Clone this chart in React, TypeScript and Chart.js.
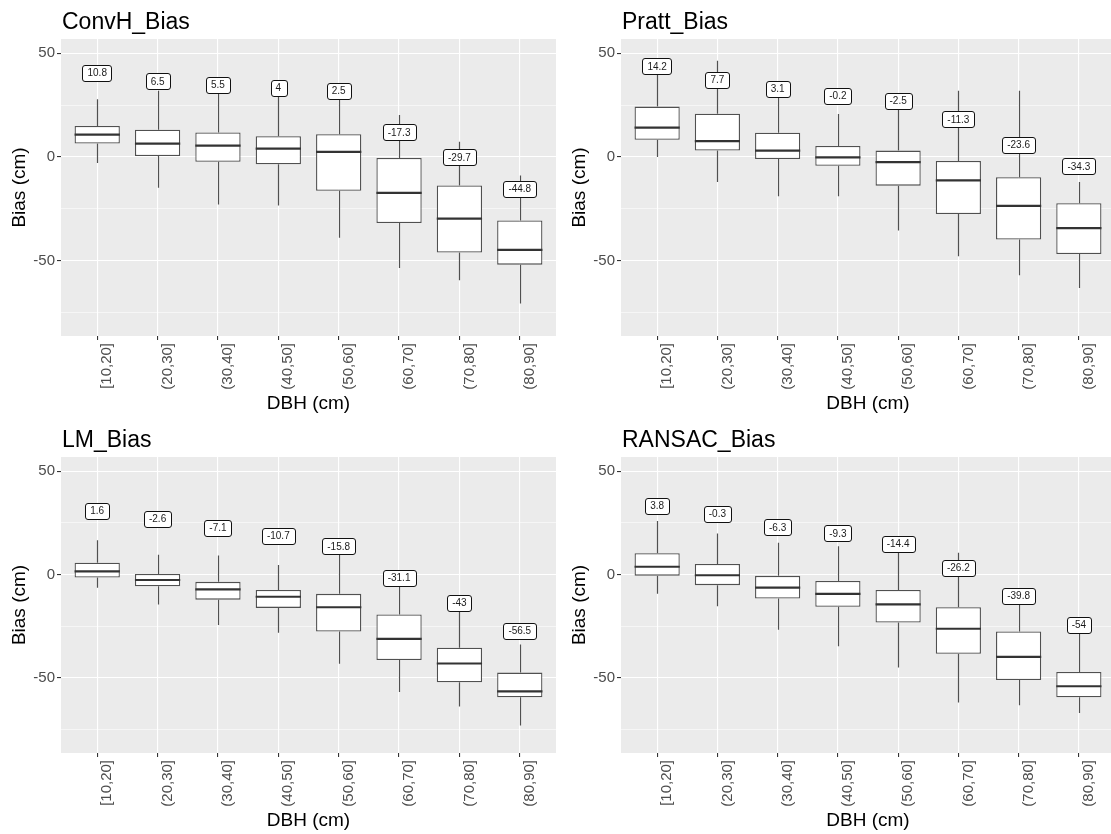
import React, { useEffect, useRef } from "react";
import { Chart, registerables } from "chart.js";

Chart.register(...registerables);

const categories = ["[10,20]", "(20,30]", "(30,40]", "(40,50]", "(50,60]", "(60,70]", "(70,80]", "(80,90]"];
const xPositions = [1, 2, 3, 4, 5, 6, 7, 8];
const yTicks = [-75, -50, -25, 0, 25, 50];
const yMin = -86.3;
const yMax = 56.9;

// ConvH_Bias
const convhLow = [-2.9, -14.8, -22.9, -23.4, -38.9, -53.5, -59.4, -70.6];
const convhQ1 = [6.5, 0.5, -2.3, -3.5, -16.3, -31.8, -46.1, -51.9];
const convhMedian = [10.8, 6.5, 5.5, 4, 2.5, -17.3, -29.7, -44.8];
const convhQ3 = [15.0, 13.2, 11.8, 10.0, 11.0, -0.5, -13.7, -30.6];
const convhHigh = [27.9, 32, 32, 30, 30, 20.2, 7.3, -8.9];
const convhLabelY = [40.5, 36.5, 34.7, 33.4, 31.9, 11.9, -0.2, -15.5];

// Pratt_Bias
const prattLow = [0, -12.1, -18.9, -18.9, -35.4, -47.9, -57.0, -63.1];
const prattQ1 = [8.3, 3.1, -1.0, -4.2, -13.8, -27.5, -39.8, -46.8];
const prattMedian = [14.2, 7.7, 3.1, -0.2, -2.5, -11.3, -23.6, -34.3];
const prattQ3 = [24.3, 20.9, 11.7, 5.3, 3.1, -1.9, -9.7, -22.3];
const prattHigh = [42, 46.4, 30, 20.7, 26, 32.0, 32.0, -12.1];
const prattLabelY = [43.7, 37.2, 32.7, 29.3, 27.2, 18.1, 5.7, -4.5];

// LM_Bias
const lmLow = [-6.3, -14.5, -24.4, -28.1, -43.1, -56.8, -63.8, -73.0];
const lmQ1 = [-1.4, -5.6, -12.1, -16.1, -27.5, -41.3, -52.1, -59.3];
const lmMedian = [1.6, -2.6, -7.1, -10.7, -15.8, -31.1, -43, -56.5];
const lmQ3 = [5.8, 0.3, -3.5, -7.4, -9.3, -19.3, -35.4, -47.4];
const lmHigh = [16.6, 9.6, 9.2, 4.7, 12, -3, -15, -33.8];
const lmLabelY = [31.0, 27.0, 22.5, 18.6, 13.7, -1.6, -13.5, -27.2];

// RANSAC_Bias
const ransacLow = [-9.3, -15.3, -26.7, -34.6, -44.9, -61.9, -63.2, -67.0];
const ransacQ1 = [-0.5, -5.1, -11.6, -15.6, -23.2, -38.3, -51.0, -59.3];
const ransacMedian = [3.8, -0.3, -6.3, -9.3, -14.4, -26.2, -39.8, -54];
const ransacQ3 = [10.3, 5.1, -0.6, -3.1, -7.4, -15.8, -27.5, -47.1];
const ransacHigh = [25.9, 19.9, 15.4, 13.7, 13, 10.6, -12, -28.5];
const ransacLabelY = [33.3, 29.3, 22.8, 19.9, 15.0, 3.2, -10.3, -24.4];

const FONT = "'Liberation Sans', Arial, sans-serif";

type PanelProps = {
  title: string;
  low: number[];
  q1: number[];
  median: number[];
  q3: number[];
  high: number[];
  labelY: number[];
  left: number;
  top: number;
  width: number;
  height: number;
};

function BoxPanel(p: PanelProps) {
  const ref = useRef<HTMLCanvasElement>(null);
  useEffect(() => {
    const canvas = ref.current!;
    const extras = {
      id: "boxExtras",
      beforeDraw(chart: any) {
        const { ctx, chartArea: a } = chart;
        ctx.save();
        ctx.fillStyle = "#EBEBEB";
        ctx.fillRect(a.left, a.top, a.right - a.left, a.bottom - a.top);
        ctx.fillStyle = "#000";
        ctx.font = `23px ${FONT}`;
        ctx.textAlign = "left";
        ctx.textBaseline = "alphabetic";
        ctx.fillText(p.title, a.left + 1, 29);
        ctx.restore();
      },
      beforeDatasetsDraw(chart: any) {
        const { ctx } = chart;
        const xs = chart.scales.x;
        const ys = chart.scales.y;
        ctx.save();
        ctx.strokeStyle = "#505050";
        ctx.lineWidth = 1.2;
        xPositions.forEach((xv, i) => {
          const x = Math.round(xs.getPixelForValue(xv)) + 0.5;
          ctx.beginPath();
          ctx.moveTo(x, ys.getPixelForValue(p.high[i]));
          ctx.lineTo(x, ys.getPixelForValue(p.q3[i]));
          ctx.moveTo(x, ys.getPixelForValue(p.q1[i]));
          ctx.lineTo(x, ys.getPixelForValue(p.low[i]));
          ctx.stroke();
        });
        ctx.restore();
      },
      afterDatasetsDraw(chart: any) {
        const { ctx } = chart;
        const xs = chart.scales.x;
        const ys = chart.scales.y;
        const meta = chart.getDatasetMeta(0);
        ctx.save();
        ctx.strokeStyle = "#333333";
        ctx.lineWidth = 2.2;
        xPositions.forEach((xv, i) => {
          const bar = meta.data[i];
          const x = xs.getPixelForValue(xv);
          const w = bar.width;
          const y = ys.getPixelForValue(p.median[i]);
          ctx.beginPath();
          ctx.moveTo(x - w / 2, y);
          ctx.lineTo(x + w / 2, y);
          ctx.stroke();
        });
        ctx.font = `10px ${FONT}`;
        ctx.textAlign = "center";
        ctx.textBaseline = "middle";
        xPositions.forEach((xv, i) => {
          const text = String(p.median[i]);
          const x = xs.getPixelForValue(xv);
          const y = ys.getPixelForValue(p.labelY[i]);
          const tw = ctx.measureText(text).width;
          const bw = tw + 10;
          const bh = 16;
          ctx.beginPath();
          (ctx as any).roundRect(Math.round(x - bw / 2) + 0.5, Math.round(y - bh / 2) + 0.5, Math.round(bw), bh, 2.5);
          ctx.fillStyle = "#ffffff";
          ctx.fill();
          ctx.strokeStyle = "#111111";
          ctx.lineWidth = 1;
          ctx.stroke();
          ctx.fillStyle = "#1a1a1a";
          ctx.fillText(text, x, y + 0.5);
        });
        ctx.restore();
      },
    };

    const chart = new Chart(canvas, {
      type: "bar",
      data: {
        datasets: [
          {
            data: xPositions.map((x, i) => ({ x, y: [p.q1[i], p.q3[i]] })) as any,
            backgroundColor: "#ffffff",
            borderColor: "#505050",
            borderWidth: 1.3,
            borderSkipped: false,
            barPercentage: 0.75,
            categoryPercentage: 1,
          },
        ],
      },
      options: {
        animation: false,
        responsive: false,
        events: [],
        layout: { padding: { top: 39, left: 0, right: 0, bottom: 0 } },
        plugins: { legend: { display: false }, tooltip: { enabled: false }, title: { display: false } },
        scales: {
          x: {
            type: "linear",
            min: 0.4,
            max: 8.6,
            offset: false,
            afterBuildTicks: (s: any) => {
              s.ticks = xPositions.map((v) => ({ value: v }));
            },
            afterFit: (s: any) => {
              s.height = 81;
            },
            grid: { offset: false, color: "#ffffff", lineWidth: 1.1, tickColor: "#333333", tickLength: 4, drawTicks: true },
            border: { display: false },
            ticks: {
              autoSkip: false,
              minRotation: 90,
              maxRotation: 90,
              padding: 3,
              labelOffset: 10,
              color: "#4D4D4D",
              font: { size: 15, family: FONT },
              callback: (v: any) => categories[Math.round(Number(v)) - 1] ?? "",
            },
            title: {
              display: true,
              text: "DBH (cm)",
              color: "#000000",
              font: { size: 19, family: FONT },
              padding: { top: 0, bottom: 2 },
            },
          },
          y: {
            type: "linear",
            min: yMin,
            max: yMax,
            afterBuildTicks: (s: any) => {
              s.ticks = yTicks.map((v) => ({ value: v }));
            },
            afterFit: (s: any) => {
              s.width = 61;
            },
            grid: {
              color: "#ffffff",
              lineWidth: (c: any) => (c.tick && c.tick.value % 50 === 0 ? 1.1 : 0.55),
              tickColor: (c: any) => (c.tick && c.tick.value % 50 === 0 ? "#333333" : "rgba(0,0,0,0)"),
              tickLength: 4,
            },
            border: { display: false },
            ticks: {
              padding: 2,
              color: "#4D4D4D",
              font: { size: 15, family: FONT },
              callback: (v: any) => (Number(v) % 50 === 0 ? String(v) : ""),
            },
            title: {
              display: true,
              text: "Bias (cm)",
              color: "#000000",
              font: { size: 19, family: FONT },
              padding: { top: 8, bottom: 0 },
            },
          },
        },
      } as any,
      plugins: [extras as any],
    });
    return () => chart.destroy();
  }, []);
  return (
    <canvas
      ref={ref}
      width={p.width}
      height={p.height}
      style={{ position: "absolute", left: p.left, top: p.top, width: p.width, height: p.height }}
    />
  );
}

export default function App() {
  return (
    <div style={{ position: "fixed", left: 0, top: 0, width: 1111, height: 834, overflow: "hidden", background: "#ffffff" }}>
      <BoxPanel title="ConvH_Bias" low={convhLow} q1={convhQ1} median={convhMedian} q3={convhQ3} high={convhHigh} labelY={convhLabelY} left={0} top={0} width={556} height={417} />
      <BoxPanel title="Pratt_Bias" low={prattLow} q1={prattQ1} median={prattMedian} q3={prattQ3} high={prattHigh} labelY={prattLabelY} left={560} top={0} width={555} height={417} />
      <BoxPanel title="LM_Bias" low={lmLow} q1={lmQ1} median={lmMedian} q3={lmQ3} high={lmHigh} labelY={lmLabelY} left={0} top={418} width={556} height={416} />
      <BoxPanel title="RANSAC_Bias" low={ransacLow} q1={ransacQ1} median={ransacMedian} q3={ransacQ3} high={ransacHigh} labelY={ransacLabelY} left={560} top={418} width={555} height={416} />
    </div>
  );
}
